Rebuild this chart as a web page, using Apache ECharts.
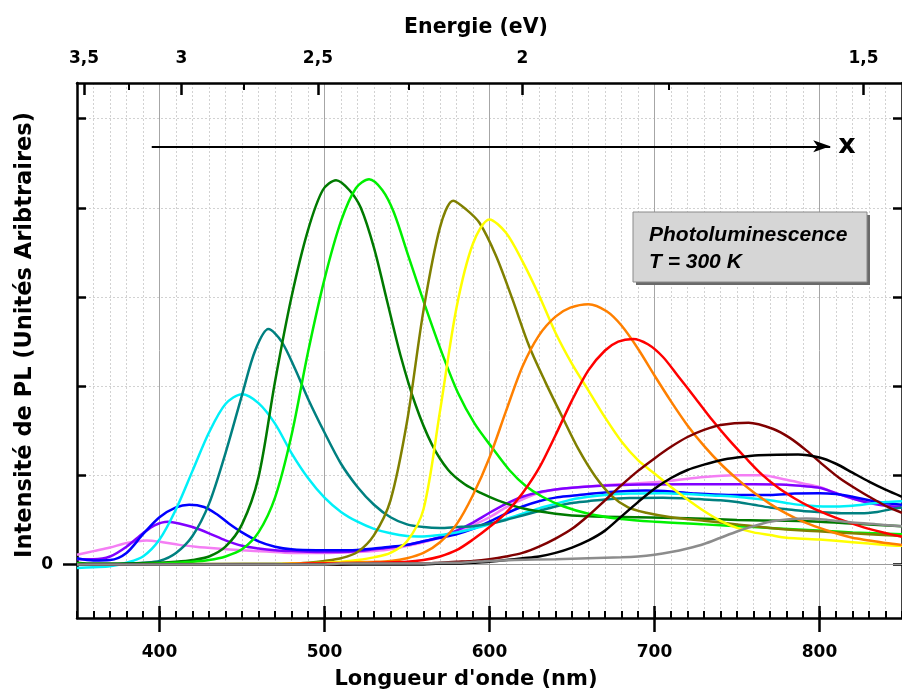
<!DOCTYPE html>
<html><head><meta charset="utf-8">
<script src="https://cdn.jsdelivr.net/npm/echarts@6/dist/echarts.min.js"></script>
<style>html,body{margin:0;padding:0;background:#fff}#c{width:902px;height:693px}</style>
</head><body><div id="c"></div>
<script>
// ---- data: [wavelength nm, PL intensity a.u.] ----
const pink = [[350,0.11],[360,0.15],[370,0.19],[380,0.24],[392,0.27],[402,0.25],[412,0.22],[422,0.2],[435,0.18],[450,0.16],[465,0.145],[480,0.13],[500,0.13],[520,0.14],[530,0.15],[540,0.17],[550,0.21],[560,0.25],[570,0.3],[580,0.36],[590,0.44],[600,0.53],[610,0.64],[620,0.73],[630,0.8],[640,0.84],[655,0.87],[670,0.89],[690,0.91],[710,0.94],[730,0.98],[748,1.0],[765,1.0],[780,0.95],[790,0.91],[800,0.87],[810,0.8],[820,0.74],[830,0.7],[840,0.67],[850,0.65]];
const purple = [[350,0.06],[360,0.06],[370,0.09],[380,0.2],[390,0.35],[397,0.44],[405,0.48],[413,0.455],[420,0.42],[430,0.35],[440,0.27],[450,0.21],[460,0.18],[470,0.16],[480,0.15],[495,0.14],[510,0.14],[520,0.15],[530,0.17],[540,0.19],[550,0.22],[560,0.26],[570,0.31],[580,0.38],[590,0.47],[600,0.58],[610,0.68],[620,0.76],[630,0.81],[640,0.84],[650,0.86],[665,0.88],[685,0.895],[720,0.9],[760,0.9],[780,0.895],[790,0.88],[800,0.86],[810,0.8],[820,0.74],[830,0.69],[840,0.66],[850,0.64]];
const blue = [[350,0.07],[360,0.045],[370,0.05],[380,0.13],[390,0.34],[400,0.53],[410,0.64],[418,0.67],[427,0.645],[435,0.56],[442,0.46],[450,0.36],[460,0.26],[470,0.2],[480,0.17],[495,0.16],[515,0.16],[530,0.18],[540,0.2],[550,0.22],[560,0.26],[570,0.3],[580,0.34],[590,0.4],[600,0.48],[610,0.57],[620,0.65],[630,0.71],[640,0.75],[650,0.77],[660,0.79],[675,0.815],[695,0.83],[710,0.82],[725,0.795],[745,0.78],[770,0.78],[785,0.795],[800,0.8],[810,0.79],[820,0.76],[830,0.72],[840,0.69],[850,0.67]];
const cyan = [[350,-0.04],[360,-0.03],[370,-0.02],[380,0.02],[390,0.09],[400,0.28],[410,0.62],[420,1.05],[430,1.48],[440,1.8],[450,1.91],[460,1.81],[470,1.58],[480,1.25],[490,0.97],[500,0.75],[510,0.59],[520,0.48],[530,0.4],[540,0.35],[550,0.32],[560,0.315],[570,0.33],[580,0.36],[590,0.4],[600,0.45],[610,0.51],[620,0.57],[630,0.63],[640,0.68],[650,0.73],[660,0.76],[670,0.78],[685,0.795],[705,0.8],[720,0.79],[735,0.775],[750,0.76],[760,0.74],[770,0.72],[780,0.69],[790,0.665],[805,0.65],[820,0.66],[830,0.68],[840,0.7],[850,0.71]];
const teal = [[350,0.01],[360,0],[370,0],[380,0.01],[390,0.02],[400,0.04],[410,0.13],[420,0.32],[430,0.68],[440,1.25],[450,1.9],[458,2.4],[466,2.64],[474,2.5],[482,2.2],[490,1.86],[500,1.48],[510,1.13],[520,0.87],[530,0.67],[540,0.53],[550,0.45],[560,0.42],[570,0.41],[580,0.42],[590,0.43],[600,0.46],[610,0.5],[620,0.55],[630,0.6],[640,0.65],[650,0.69],[660,0.71],[670,0.73],[685,0.745],[705,0.75],[720,0.74],[730,0.73],[740,0.72],[750,0.7],[760,0.67],[770,0.64],[780,0.62],[790,0.6],[800,0.59],[815,0.575],[825,0.575],[835,0.59],[843,0.62],[850,0.64]];
const darkGreen = [[350,0.02],[360,0.01],[380,0.01],[400,0.02],[410,0.03],[420,0.05],[430,0.09],[440,0.2],[450,0.45],[460,0.98],[470,2.05],[480,3.0],[490,3.75],[499,4.2],[507,4.31],[515,4.2],[522,4.0],[530,3.55],[538,2.95],[546,2.35],[555,1.8],[565,1.35],[575,1.06],[585,0.9],[595,0.8],[605,0.72],[620,0.63],[640,0.57],[660,0.54],[690,0.53],[720,0.52],[750,0.5],[780,0.49],[800,0.48],[820,0.46],[850,0.43]];
const green = [[350,0.01],[360,0],[380,0],[400,0.01],[410,0.02],[420,0.03],[430,0.05],[440,0.09],[450,0.17],[460,0.36],[470,0.75],[480,1.45],[490,2.38],[500,3.2],[510,3.85],[519,4.22],[527,4.32],[535,4.2],[542,3.95],[551,3.45],[561,2.9],[571,2.38],[581,1.92],[591,1.58],[602,1.3],[612,1.06],[622,0.88],[632,0.76],[645,0.65],[660,0.57],[680,0.51],[700,0.48],[730,0.45],[760,0.42],[790,0.39],[820,0.36],[850,0.34]];
const olive = [[350,0],[480,0.01],[490,0.02],[500,0.04],[510,0.07],[520,0.14],[530,0.33],[540,0.72],[550,1.6],[560,2.85],[570,3.78],[578,4.08],[586,3.98],[594,3.83],[604,3.46],[614,2.97],[624,2.45],[634,2.04],[644,1.66],[654,1.29],[664,0.99],[674,0.77],[684,0.64],[695,0.58],[710,0.53],[730,0.49],[750,0.45],[770,0.41],[790,0.38],[810,0.36],[830,0.34],[850,0.32]];
const yellow = [[350,0],[460,0],[480,0.01],[500,0.02],[510,0.03],[520,0.05],[530,0.08],[540,0.13],[550,0.26],[560,0.62],[570,1.72],[580,2.88],[590,3.6],[600,3.87],[610,3.72],[620,3.4],[630,3.02],[640,2.6],[650,2.25],[660,1.95],[670,1.65],[680,1.38],[690,1.17],[700,1.02],[710,0.87],[720,0.73],[730,0.6],[740,0.49],[750,0.41],[760,0.36],[770,0.33],[780,0.3],[790,0.29],[800,0.28],[820,0.25],[840,0.22],[850,0.21]];
const orange = [[350,0],[470,0],[480,0.01],[510,0.02],[530,0.03],[540,0.04],[550,0.07],[560,0.13],[570,0.25],[580,0.45],[590,0.78],[600,1.2],[610,1.72],[620,2.22],[630,2.57],[640,2.78],[649,2.88],[660,2.92],[671,2.84],[680,2.68],[690,2.42],[700,2.12],[710,1.83],[720,1.56],[730,1.33],[740,1.13],[750,0.96],[760,0.81],[770,0.68],[780,0.57],[790,0.48],[800,0.41],[810,0.35],[820,0.3],[830,0.27],[840,0.24],[850,0.22]];
const red = [[350,0],[480,0],[490,0.01],[520,0.01],[530,0.02],[550,0.03],[560,0.05],[570,0.09],[580,0.16],[590,0.28],[600,0.42],[610,0.58],[620,0.8],[630,1.08],[640,1.45],[650,1.84],[660,2.18],[670,2.4],[678,2.5],[687,2.53],[696,2.47],[705,2.33],[714,2.12],[725,1.86],[735,1.62],[745,1.4],[755,1.2],[765,1.01],[775,0.86],[785,0.74],[795,0.64],[805,0.56],[815,0.49],[830,0.4],[850,0.31]];
const darkRed = [[350,0],[510,0],[520,0.01],[560,0.01],[570,0.02],[580,0.03],[590,0.04],[600,0.06],[610,0.09],[620,0.13],[630,0.2],[640,0.29],[650,0.4],[660,0.55],[670,0.72],[680,0.89],[690,1.05],[700,1.19],[710,1.32],[720,1.43],[730,1.51],[740,1.565],[757,1.59],[772,1.52],[782,1.42],[792,1.28],[802,1.12],[812,0.97],[822,0.85],[832,0.74],[842,0.64],[850,0.58]];
const black = [[350,0],[560,0],[570,0.01],[580,0.01],[590,0.02],[600,0.03],[610,0.05],[620,0.07],[630,0.09],[640,0.13],[650,0.19],[660,0.27],[670,0.38],[680,0.54],[690,0.7],[700,0.85],[710,0.97],[720,1.06],[730,1.12],[740,1.17],[750,1.2],[763,1.225],[787,1.235],[800,1.2],[810,1.13],[820,1.03],[830,0.93],[840,0.84],[850,0.76]];
const gray = [[350,0],[500,0],[510,0.01],[560,0.01],[570,0.02],[580,0.02],[590,0.03],[600,0.04],[615,0.05],[640,0.06],[660,0.07],[680,0.08],[690,0.09],[700,0.11],[710,0.14],[720,0.18],[730,0.23],[740,0.3],[750,0.37],[760,0.43],[770,0.48],[780,0.505],[792,0.515],[805,0.5],[820,0.47],[835,0.45],[850,0.43]];

const seriesNames  = ['pink','purple','blue','cyan','teal','darkGreen','green','olive','yellow','orange','red','darkRed','black','gray'];
const seriesValues = [pink,purple,blue,cyan,teal,darkGreen,green,olive,yellow,orange,red,darkRed,black,gray];
const seriesColors = ['#f47ef4','#8000ff','#0000ff','#00f0f8','#008080','#007a00','#00f000','#808000','#ffff00','#ff8000','#ff0000','#800000','#000000','#8c8c8c'];

const xMajorTicks = [400,500,600,700,800];
const energyMajor = [3.5,3,2.5,2,1.5];
const energyMinor = [3.25,2.75,2.25,1.75];
const yTicks = [0,1,2,3,4,5];
const yLabelTicks = [0];
const HC = 1240; // nm·eV
const arrowStart = [395.3, 4.69];
const arrowEnd = [806.5, 4.69];

// ---- chart ----
const FONT = '"DejaVu Sans", sans-serif';
const axisBlack = {color:'#000', width:2.5};
const tickBlack = {color:'#000', width:2};
const xBase = {type:'value', min:350, max:850, gridIndex:0};
const yBase = {type:'value', min:-0.6, max:5.4, gridIndex:0};
const fmtE = v => String(Math.round(HC / v * 100) / 100).replace('.', ',');

const chart = echarts.init(document.getElementById('c'), null, {renderer:'canvas'});
chart.setOption({
  animation:false,
  backgroundColor:'#fff',
  grid:{left:77, top:83, width:827.5, height:535, containLabel:false},
  xAxis:[
    Object.assign({}, xBase, {position:'bottom', interval:10,
      axisLine:{show:true, onZero:false, lineStyle:axisBlack},
      axisTick:{show:true, inside:true, length:7, lineStyle:tickBlack},
      axisLabel:{show:false},
      splitLine:{show:true, lineStyle:{color:'#d2d2d2', width:1, type:[2,2]}}}),
    Object.assign({}, xBase, {position:'bottom',
      axisLine:{show:false, onZero:false},
      axisTick:{show:true, inside:true, length:12, customValues:xMajorTicks, lineStyle:{color:'#000', width:2.5}},
      axisLabel:{show:true, customValues:xMajorTicks, margin:26, fontFamily:FONT, fontWeight:'bold', fontSize:17, color:'#000'},
      splitLine:{show:true, lineStyle:{color:'#a6a6a6', width:1}}}),
    Object.assign({}, xBase, {position:'bottom',
      axisLine:{show:false, onZero:false},
      axisTick:{show:true, inside:false, length:14, customValues:xMajorTicks, lineStyle:{color:'#000', width:2.5}},
      axisLabel:{show:false}, splitLine:{show:false}}),
    Object.assign({}, xBase, {position:'top',
      axisLine:{show:true, onZero:false, lineStyle:axisBlack},
      axisTick:{show:true, inside:true, length:12, customValues:energyMajor.map(e => HC / e), lineStyle:{color:'#000', width:2.5}},
      axisLabel:{show:true, customValues:energyMajor.map(e => HC / e), formatter:fmtE, margin:16, fontFamily:FONT, fontWeight:'bold', fontSize:17, color:'#000'},
      splitLine:{show:false}}),
    Object.assign({}, xBase, {position:'top',
      axisLine:{show:false, onZero:false},
      axisTick:{show:true, inside:true, length:7, customValues:energyMinor.map(e => HC / e), lineStyle:tickBlack},
      axisLabel:{show:false}, splitLine:{show:false}})
  ],
  yAxis:[
    Object.assign({}, yBase, {position:'left',
      axisLine:{show:true, onZero:false, lineStyle:axisBlack},
      axisTick:{show:true, inside:true, length:9, customValues:yTicks, lineStyle:{color:'#000', width:2.5}},
      axisLabel:{show:true, customValues:yLabelTicks, margin:24, fontFamily:FONT, fontWeight:'bold', fontSize:17, color:'#000'},
      splitLine:{show:true, lineStyle:{color:'#d2d2d2', width:1, type:[2,2]}}}),
    Object.assign({}, yBase, {position:'left',
      axisLine:{show:false, onZero:false},
      axisTick:{show:true, inside:false, length:14, customValues:yLabelTicks, lineStyle:{color:'#000', width:2.5}},
      axisLabel:{show:false}, splitLine:{show:false}}),
    Object.assign({}, yBase, {position:'right',
      axisLine:{show:true, onZero:false, lineStyle:axisBlack},
      axisTick:{show:true, inside:true, length:9, customValues:yTicks, lineStyle:{color:'#000', width:2.5}},
      axisLabel:{show:false}, splitLine:{show:false}})
  ],
  series: seriesNames.map((name, k) => {
    const s = {
      type:'line', name, xAxisIndex:0, yAxisIndex:0,
      data: seriesValues[k],
      smooth:0.3, showSymbol:false, symbol:'none', clip:true,
      lineStyle:{width:2.5, color:seriesColors[k]}, itemStyle:{color:seriesColors[k]},
      emphasis:{disabled:true}, z:3
    };
    if (k === 0) {
      s.markLine = {
        silent:true, animation:false, symbol:'none', z:2,
        data:[
          {yAxis:0, lineStyle:{color:'#9a9a9a', width:1, type:'solid'}, label:{show:false}},
          [
            {coord:arrowStart, symbol:'none', lineStyle:{color:'#000', width:2, type:'solid'},
             label:{show:true, formatter:'x', position:'end', distance:8, fontFamily:FONT, fontWeight:'bold', fontSize:27, color:'#000'}},
            {coord:arrowEnd, symbol:'arrow', symbolSize:[9,17], lineStyle:{color:'#000', width:2, type:'solid'},
             label:{show:true, formatter:'x', position:'end', distance:8, fontFamily:FONT, fontWeight:'bold', fontSize:27, color:'#000'}}
          ]
        ]
      };
    }
    return s;
  }),
  graphic:[
    {type:'text', x:25, y:335, rotation:Math.PI/2, silent:true,
     style:{text:'Intensité de PL (Unités Aribtraires)', font:'bold 22.5px "DejaVu Sans"', fill:'#000', align:'center', verticalAlign:'middle'}},
    {type:'text', x:466, y:680, silent:true,
     style:{text:"Longueur d'onde (nm)", font:'bold 21px "DejaVu Sans"', fill:'#000', align:'center', verticalAlign:'middle'}},
    {type:'text', x:476, y:28, silent:true,
     style:{text:'Energie (eV)', font:'bold 20.5px "DejaVu Sans"', fill:'#000', align:'center', verticalAlign:'middle'}},
    {type:'rect', silent:true, z:10, shape:{x:636, y:215, width:234, height:70}, style:{fill:'#6a6a6a'}},
    {type:'rect', silent:true, z:11, shape:{x:633, y:212, width:234, height:70}, style:{fill:'#d6d6d6', stroke:'#8a8a8a', lineWidth:1}},
    {type:'text', silent:true, z:12, x:649, y:235,
     style:{text:'Photoluminescence', font:'italic bold 21px "Liberation Sans"', fill:'#000', align:'left', verticalAlign:'middle'}},
    {type:'text', silent:true, z:12, x:649, y:262,
     style:{text:'T = 300 K', font:'italic bold 21px "Liberation Sans"', fill:'#000', align:'left', verticalAlign:'middle'}}
  ]
});
</script></body></html>
